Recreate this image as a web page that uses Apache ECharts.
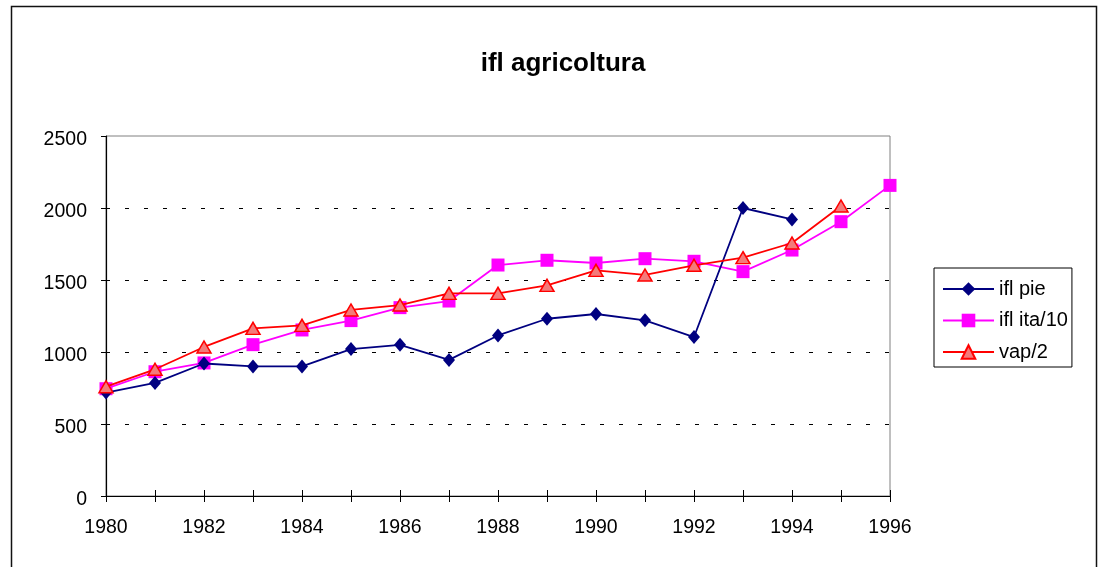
<!DOCTYPE html>
<html>
<head>
<meta charset="utf-8">
<script src="https://cdn.jsdelivr.net/npm/echarts@6/dist/echarts.min.js"></script>
<style>html,body{margin:0;padding:0;background:#fff}#c{width:1099px;height:567px}</style>
</head>
<body>
<div id="c"></div>
<script>
const years = ['1980','1981','1982','1983','1984','1985','1986','1987','1988','1989','1990','1991','1992','1993','1994','1995','1996'];
const iflPie = [718, 785, 920, 900, 900, 1020, 1050, 945, 1115, 1231, 1264, 1220, 1104, 2000, 1921, null, null];
const iflIta10 = [745, 863, 924, 1051, 1153, 1218, 1308, 1354, 1604, 1637, 1618, 1648, 1630, 1558, 1708, 1905, 2157];
const vap2 = [759, 880, 1035, 1164, 1185, 1292, 1326, 1407, 1407, 1463, 1567, 1535, 1602, 1655, 1757, 2014, null];
const yTicks = {min: 0, max: 2500, interval: 500};

const FONT = "'Liberation Sans', Arial, sans-serif";
const chart = echarts.init(document.getElementById('c'));
chart.setOption({
  backgroundColor: '#ffffff',
  animation: false,
  title: {
    text: 'ifl agricoltura', left: 558, top: 46, textAlign: 'center',
    textStyle: {fontFamily: FONT, fontSize: 26, fontWeight: 'bold', color: '#000'}
  },
  graphic: [{
    type: 'rect', silent: true,
    shape: {x: 11.5, y: 6.5, width: 1085, height: 600},
    style: {fill: 'none', stroke: '#111', lineWidth: 1.5}
  }],
  legend: {
    orient: 'vertical', left: 934, top: 268,
    padding: [11, 4, 5, 8],
    borderColor: '#000', borderWidth: 1,
    itemWidth: 51, itemHeight: 17, itemGap: 11.5,
    textStyle: {fontFamily: FONT, fontSize: 20, color: '#000', padding: [0, 0, 0, 0], lineHeight: 17},
    data: ['ifl pie', 'ifl ita/10', 'vap/2']
  },
  grid: {left: 106, right: 209, top: 136, bottom: 71, show: true, borderColor: '#808080', borderWidth: 1, containLabel: false},
  xAxis: [{
    type: 'category', data: years, boundaryGap: false, position: 'bottom',
    axisLine: {lineStyle: {color: '#000', width: 1.2}},
    axisTick: {show: true, interval: 0, length: 6, lineStyle: {color: '#000'}},
    axisLabel: {interval: 1, margin: 22, fontFamily: FONT, fontSize: 19.5, color: '#000'},
    splitLine: {show: false}
  }, {
    type: 'category', data: years, boundaryGap: false, position: 'bottom', offset: 0,
    axisLine: {show: false},
    axisTick: {show: true, inside: true, interval: 0, length: 6, lineStyle: {color: '#000'}},
    axisLabel: {show: false},
    splitLine: {show: false}
  }],
  yAxis: {
    type: 'value', min: yTicks.min, max: yTicks.max, interval: yTicks.interval,
    axisLine: {show: true, lineStyle: {color: '#000', width: 1.2}},
    axisTick: {show: true, length: 5, lineStyle: {color: '#000'}},
    axisLabel: {margin: 19, verticalAlign: 'top', lineHeight: 8, fontFamily: FONT, fontSize: 19.5, color: '#000', formatter: v => String(v)},
    splitLine: {show: true, showMinLine: false, showMaxLine: false, lineStyle: {color: '#000', type: [4, 15], width: 1}}
  },
  series: [{
    name: 'ifl pie', type: 'line', data: iflPie, xAxisIndex: 0,
    symbol: 'diamond', symbolSize: [12, 14], showAllSymbol: true,
    lineStyle: {color: '#000080', width: 1.8},
    itemStyle: {color: '#000080', borderWidth: 0},
    z: 3
  }, {
    name: 'ifl ita/10', type: 'line', data: iflIta10, xAxisIndex: 0,
    symbol: 'rect', symbolSize: 13, showAllSymbol: true,
    lineStyle: {color: '#ff00ff', width: 1.8},
    itemStyle: {color: '#ff00ff', borderWidth: 0},
    z: 2
  }, {
    name: 'vap/2', type: 'line', data: vap2, xAxisIndex: 0,
    symbol: 'triangle', symbolSize: [14, 12], showAllSymbol: true,
    lineStyle: {color: '#ff0000', width: 1.8},
    itemStyle: {color: '#f47a7a', borderColor: '#ff0000', borderWidth: 1.5},
    z: 4
  }]
});
</script>
</body>
</html>
